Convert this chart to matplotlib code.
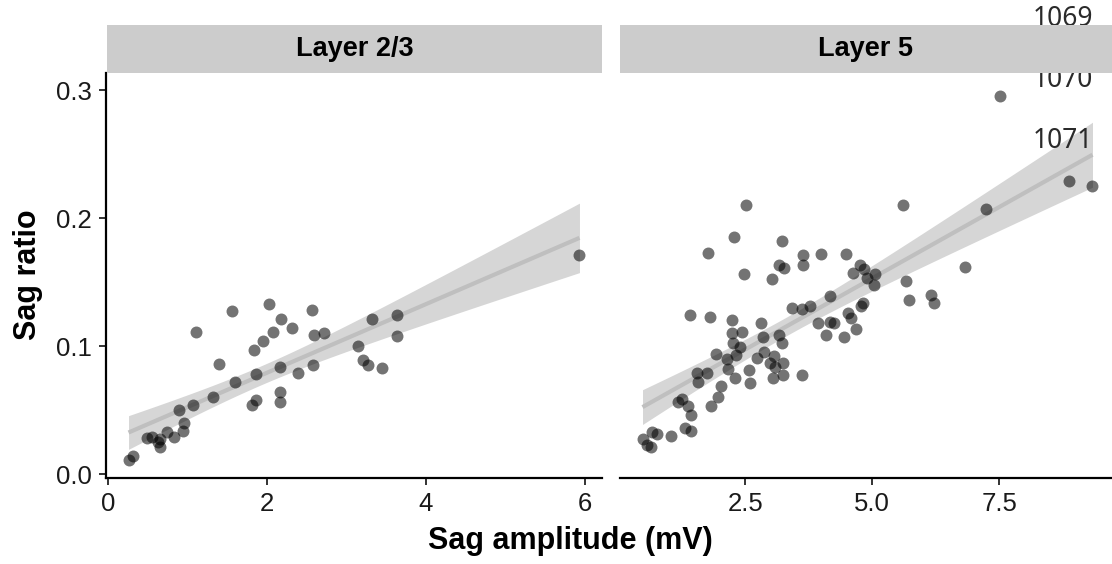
import numpy as np
import matplotlib
matplotlib.use("Agg")
import matplotlib.pyplot as plt
from matplotlib.ticker import FormatStrFormatter

plt.rcParams["font.family"] = ["Liberation Sans", "DejaVu Sans"]

panel_titles = ["Layer 2/3", "Layer 5"]
line_numbers = ["1069", "1070", "1071"]

# Layer 2/3
l23_amp = [0.26, 0.32, 0.49, 0.56, 0.65, 0.63, 0.66, 0.74, 0.83, 0.94, 0.96, 0.89,
           1.07, 1.11, 1.32, 1.40, 1.56, 1.60, 1.81, 1.86, 1.84, 1.95, 1.86, 2.03,
           2.08, 2.18, 2.16, 2.17, 2.16, 2.31, 2.39, 2.57, 2.59, 2.58, 2.72, 3.14,
           3.21, 3.27, 3.32, 3.45, 3.64, 3.64, 5.93]
l23_ratio = [0.011, 0.014, 0.028, 0.029, 0.027, 0.025, 0.021, 0.033, 0.029, 0.034,
             0.040, 0.050, 0.054, 0.111, 0.060, 0.086, 0.127, 0.072, 0.054, 0.058,
             0.097, 0.104, 0.078, 0.133, 0.111, 0.121, 0.084, 0.064, 0.056, 0.114,
             0.079, 0.128, 0.109, 0.085, 0.110, 0.100, 0.089, 0.085, 0.121, 0.083,
             0.124, 0.108, 0.171]

# Layer 5
l5_amp = [0.47, 0.63, 0.66, 0.76, 0.55, 1.04, 1.30, 1.43, 1.17, 1.25, 1.37, 1.42,
          1.83, 1.96, 2.02, 1.54, 1.56, 1.75, 1.92, 2.14, 2.16, 2.29, 2.26, 2.32,
          2.40, 2.24, 2.44, 2.57, 2.59, 2.73, 2.84, 2.86, 2.99, 3.06, 3.08, 3.05,
          3.23, 3.23, 2.51, 2.27, 1.77, 2.48, 3.21, 3.03, 3.17, 3.25, 3.63, 3.64,
          3.98, 4.17, 1.40, 1.80, 2.24, 2.80, 3.42, 3.62, 3.78, 3.92, 4.08, 3.17,
          3.21, 3.62, 4.48, 4.76, 4.83, 4.62, 5.06, 4.90, 5.04, 5.67, 5.73, 6.16,
          6.21, 4.81, 4.78, 4.52, 4.58, 4.17, 4.24, 4.44, 4.67, 5.60, 7.52, 7.24,
          8.88, 9.34, 6.82]
l5_ratio = [0.027, 0.021, 0.033, 0.031, 0.023, 0.030, 0.036, 0.034, 0.056, 0.059,
            0.053, 0.046, 0.053, 0.060, 0.069, 0.079, 0.072, 0.079, 0.094, 0.090,
            0.082, 0.075, 0.102, 0.093, 0.099, 0.110, 0.111, 0.081, 0.071, 0.091,
            0.107, 0.095, 0.087, 0.092, 0.084, 0.075, 0.087, 0.077, 0.210, 0.185,
            0.173, 0.156, 0.182, 0.152, 0.163, 0.161, 0.171, 0.163, 0.172, 0.139,
            0.124, 0.123, 0.120, 0.118, 0.130, 0.129, 0.131, 0.118, 0.109, 0.109,
            0.102, 0.077, 0.172, 0.163, 0.160, 0.157, 0.156, 0.153, 0.148, 0.151,
            0.136, 0.140, 0.134, 0.134, 0.131, 0.126, 0.122, 0.119, 0.118, 0.107,
            0.113, 0.210, 0.295, 0.207, 0.229, 0.225, 0.162]


def lm_band(x, y, npts=80):
    # linear fit with 95% confidence band (like geom_smooth(method="lm"))
    x = np.asarray(x)
    y = np.asarray(y)
    n = len(x)
    b, a = np.polyfit(x, y, 1)
    resid = y - (a + b * x)
    s = np.sqrt(np.sum(resid ** 2) / (n - 2))
    sxx = np.sum((x - x.mean()) ** 2)
    df = n - 2
    z = 1.959964
    t = z + (z ** 3 + z) / (4 * df) + (5 * z ** 5 + 16 * z ** 3 + 3 * z) / (96 * df ** 2)
    xs = np.linspace(x.min(), x.max(), npts)
    fit = a + b * xs
    se = s * np.sqrt(1 / n + (xs - x.mean()) ** 2 / sxx)
    return xs, fit, fit - t * se, fit + t * se


W, H = 1112, 564
fig = plt.figure(figsize=(W / 100, H / 100), dpi=100)


def px_box(x0, y0, x1, y1):
    return [x0 / W, 1 - y1 / H, (x1 - x0) / W, (y1 - y0) / H]


ax1 = fig.add_axes(px_box(106, 73, 602, 478))
ax2 = fig.add_axes(px_box(620, 73, 1115, 478))

ylim = (-0.0031, 0.3133)
for ax, xs_, ys_ in [(ax1, l23_amp, l23_ratio), (ax2, l5_amp, l5_ratio)]:
    bx, fit, lo, hi = lm_band(xs_, ys_)
    ax.fill_between(bx, lo, hi, color="#d6d6d6", lw=0, zorder=1)
    ax.plot(bx, fit, color="#bfbfbf", lw=3, zorder=2, solid_capstyle="butt")
    ax.scatter(xs_, ys_, s=74, color="black", alpha=0.55, lw=0, zorder=3)
    rng = max(xs_) - min(xs_)
    ax.set_xlim(min(xs_) - 0.05 * rng, max(xs_) + 0.05 * rng)
    ax.set_ylim(*ylim)
    for sp in ["top", "right"]:
        ax.spines[sp].set_visible(False)
    ax.spines["bottom"].set_linewidth(1.6)
    ax.spines["left"].set_linewidth(1.6)
    ax.tick_params(labelsize=18.5, length=5, width=1.4, color="#333333",
                   labelcolor="#1a1a1a", pad=5)

ax1.set_xticks([0, 2, 4, 6])
ax1.set_yticks([0.0, 0.1, 0.2, 0.3])
ax1.yaxis.set_major_formatter(FormatStrFormatter("%.1f"))

ax2.set_xticks([2.5, 5.0, 7.5])
ax2.xaxis.set_major_formatter(FormatStrFormatter("%.1f"))
ax2.spines["left"].set_visible(False)
ax2.tick_params(axis="y", left=False, labelleft=False)

# line numbers sitting behind the strips
for i, lab in enumerate(line_numbers):
    fig.text(1093 / W, 1 - (26 + 61 * i) / H, lab, ha="right", va="baseline",
             fontsize=19, color="#2a2a2a", family=["Noto Sans", "DejaVu Sans"],
             zorder=3)

# facet strips
for title, (x0, x1) in zip(panel_titles, [(107, 602), (620, 1112)]):
    sax = fig.add_axes(px_box(x0, 25, x1, 73))
    sax.set_facecolor("#cccccc")
    sax.set_xticks([])
    sax.set_yticks([])
    for sp in sax.spines.values():
        sp.set_visible(False)
    sax.set_zorder(5)
    sax.text(0.5, 0.5, title, ha="center", va="center", fontsize=19.5,
             fontweight="bold", transform=sax.transAxes)

fig.text(570 / W, 1 - 541 / H, "Sag amplitude (mV)", ha="center", va="center",
         fontsize=22, fontweight="bold")
fig.text(28 / W, 1 - 275 / H, "Sag ratio", ha="center", va="center",
         fontsize=22, fontweight="bold", rotation=90)

fig.savefig("out.png", dpi=100)
